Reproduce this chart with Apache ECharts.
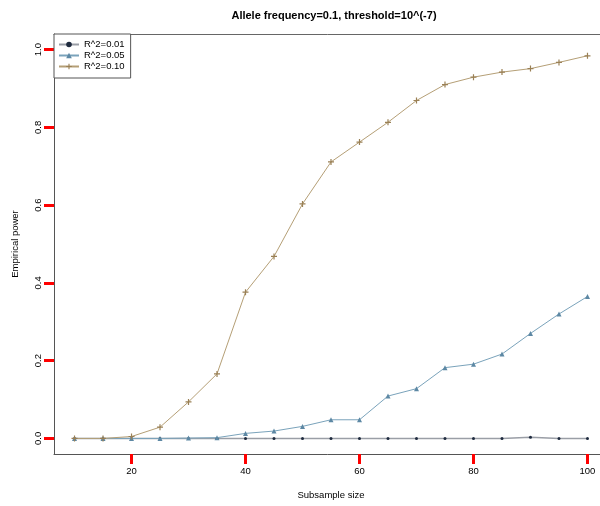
<!DOCTYPE html>
<html><head><meta charset="utf-8">
<script src="https://cdn.jsdelivr.net/npm/echarts@6/dist/echarts.min.js"></script>
<style>html,body{margin:0;padding:0;background:#fff}#c{width:600px;height:506px}</style>
</head><body><div id="c"></div>
<script>
const sizes = [10,15,20,25,30,35,40,45,50,55,60,65,70,75,80,85,90,95,100];
const power001 = [0,0,0,0,0,0,0,0,0,0,0,0,0,0,0,0,0.003,0,0];
const power005 = [0,0,0,0,0.001,0.002,0.013,0.019,0.031,0.048,0.048,0.109,0.128,0.182,0.191,0.217,0.270,0.320,0.365];
const power010 = [0,0,0.005,0.029,0.094,0.166,0.376,0.468,0.603,0.711,0.762,0.813,0.869,0.910,0.929,0.942,0.951,0.967,0.984];
const seriesNames = ['R^2=0.01','R^2=0.05','R^2=0.10'];
const xTicks = [20,40,60,80,100];
const yTicks = [0,0.2,0.4,0.6,0.8,1.0];

const X_MIN = 6.4, X_MAX = 103.6, Y_MIN = -0.04, Y_MAX = 1.04;
const pair = (ys) => sizes.map((x,i)=>[x, ys[i]]);
const plus = 'path://M4,0h2v4h4v2h-4v4h-2v-4h-4v-2h4z';
const font = 'Liberation Sans, Arial, sans-serif';

const chart = echarts.init(document.getElementById('c'), null, {renderer:'canvas'});
chart.setOption({
  animation:false,
  backgroundColor:'#fff',
  title:{
    text:'Allele frequency=0.1, threshold=10^(-7)',
    left:329, top:5, textAlign:'center',
    textStyle:{fontFamily:font, fontSize:11, fontWeight:'bold', color:'#000'}
  },
  legend:{
    orient:'vertical', left:54, top:34,
    data:seriesNames,
    itemWidth:20, itemHeight:7, itemGap:0,
    padding:[5,6,6,4],
    borderColor:'#555', borderWidth:1, borderRadius:0,
    backgroundColor:'#fff',
    textStyle:{fontFamily:font, fontSize:9.5, color:'#000', lineHeight:11}
  },
  grid:{left:54, top:34, width:554, bottom:52, show:false,
        containLabel:false, outerBoundsMode:'none'},
  xAxis:[{
    type:'value', min:X_MIN, max:X_MAX, position:'bottom',
    name:'Subsample size', nameLocation:'middle', nameGap:36,
    nameTextStyle:{fontFamily:font, fontSize:9.5, color:'#000'},
    axisLine:{show:true, onZero:false, lineStyle:{color:'#555'}},
    axisTick:{show:true, customValues:xTicks, length:10, lineStyle:{color:'#ff0000', width:3}},
    axisLabel:{customValues:xTicks, margin:12, fontFamily:font, fontSize:9.5, color:'#000'},
    splitLine:{show:false}
  },{
    type:'value', min:X_MIN, max:X_MAX, position:'top',
    axisLine:{show:true, onZero:false, lineStyle:{color:'#666'}},
    axisTick:{show:false}, axisLabel:{show:false}, splitLine:{show:false}
  }],
  yAxis:{
    type:'value', min:Y_MIN, max:Y_MAX, position:'left',
    name:'Empirical power', nameLocation:'middle', nameGap:34,
    nameTextStyle:{fontFamily:font, fontSize:9.5, color:'#000'},
    axisLine:{show:true, onZero:false, lineStyle:{color:'#555'}},
    axisTick:{show:true, customValues:yTicks, length:10, lineStyle:{color:'#ff0000', width:3}},
    axisLabel:{customValues:yTicks, rotate:90, margin:11, fontFamily:font, fontSize:9.5, color:'#000',
      formatter:(v)=>v.toFixed(1)},
    splitLine:{show:false}
  },
  series:[
    {name:seriesNames[0], type:'line', data:pair(power001), symbol:'circle', symbolSize:3,
     lineStyle:{color:'#9a9ea6', width:1.5}, itemStyle:{color:'#1f2b3f'}, z:2},
    {name:seriesNames[1], type:'line', data:pair(power005), symbol:'triangle', symbolSize:5,
     lineStyle:{color:'#7aa3bb', width:1}, itemStyle:{color:'#5d88a4'}, z:3},
    {name:seriesNames[2], type:'line', data:pair(power010), symbol:plus, symbolSize:6,
     lineStyle:{color:'#b59f76', width:1}, itemStyle:{color:'#9a8055'}, z:4}
  ]
});
</script></body></html>
